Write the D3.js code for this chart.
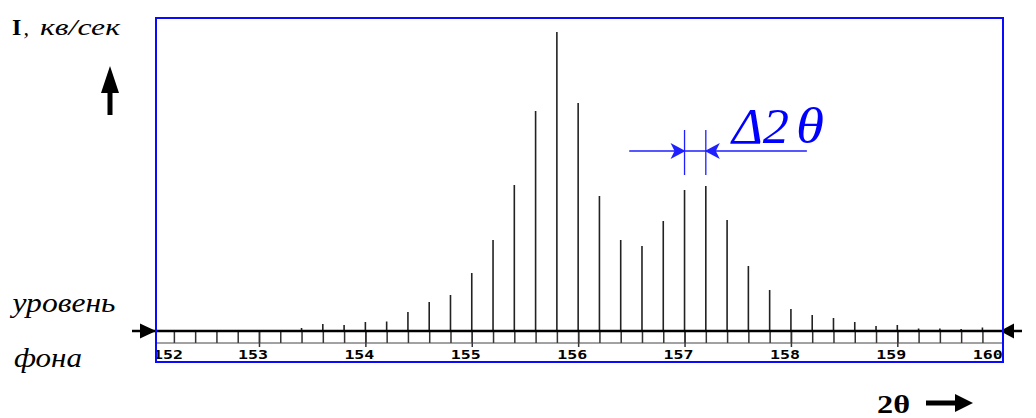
<!DOCTYPE html>
<html><head><meta charset="utf-8">
<script src="https://cdn.jsdelivr.net/npm/d3@7"></script>
<style>body{margin:0;background:#fff} svg{display:block}</style>
</head><body>
<script>
// ---- data ----
const positions = [152.2,152.4,152.6,152.8,153.0,153.2,153.4,153.6,153.8,154.0,154.2,154.4,154.6,154.8,
  155.0,155.2,155.4,155.6,155.8,156.0,156.2,156.4,156.6,156.8,157.0,157.2,157.4,157.6,157.8,
  158.0,158.2,158.4,158.6,158.8,159.0,159.2,159.4,159.6,159.8];
const intensities = [0,0,0,0,0,0,3,7,6,9,9.5,19,29,36,
  58,91,146,220,299,228,135,91,85,110,141,145,111,65,41,
  22,16,13,9,5,6,2.5,2.5,2,3.5];
const majorTicks = [153,154,155,156,157,158,159];
const tickLabelValues = [152,153,154,155,156,157,158,159,160];
const tickLabels = ["152","153","154","155","156","157","158","159","160"];
const deltaPair = [157.0, 157.2];
const deltaLineExtent = [156.48, 158.15];
const deltaLevel = 180;

// ---- layout ----
const W = 1036, H = 418;
const frame = {x0:156, x1:1003, y0:18, y1:362};
const baseY = 331;
const x = d3.scaleLinear().domain([152,160]).range([152.6,1003.7]);
const y = d3.scaleLinear().domain([0,300]).range([baseY,31]);

const svg = d3.select("body").append("svg").attr("width",W).attr("height",H);
const defs = svg.append("defs");
defs.append("clipPath").attr("id","fclip").append("rect")
  .attr("x",frame.x0+0.5).attr("y",frame.y0).attr("width",frame.x1-frame.x0-1).attr("height",frame.y1-frame.y0);

// bars
svg.append("g").selectAll("line").data(positions).join("line")
  .attr("x1",d=>x(d)).attr("x2",d=>x(d))
  .attr("y1",y(0)).attr("y2",(d,i)=>y(intensities[i]))
  .attr("stroke","#222").attr("stroke-width",1.6);

// ruler: minor ticks
const minorAxis = d3.axisBottom(x).tickValues(positions).tickSize(12).tickFormat("");
const gMinor = svg.append("g").attr("transform",`translate(0,${baseY})`).call(minorAxis);
gMinor.select(".domain").remove();
gMinor.selectAll(".tick line").attr("stroke","#333").attr("stroke-width",1.5);
const majorAxis = d3.axisBottom(x).tickValues(majorTicks).tickSize(16).tickFormat("");
const gMajor = svg.append("g").attr("transform",`translate(0,${baseY})`).call(majorAxis);
gMajor.select(".domain").remove();
gMajor.selectAll(".tick line").attr("stroke","#333").attr("stroke-width",1.5);

// lower ruler line
svg.append("line").attr("x1",frame.x0).attr("x2",frame.x1).attr("y1",343).attr("y2",343)
  .attr("stroke","#444").attr("stroke-width",1);

// tick labels
const gl = svg.append("g").attr("clip-path","url(#fclip)");
gl.selectAll("text").data(tickLabelValues).join("text")
  .attr("x",(d,i)=> i===0 ? x(d)+0.5 : (i===tickLabelValues.length-1 ? x(d)-31 : x(d)-21))
  .attr("y",358.5)
  .attr("textLength",30).attr("lengthAdjust","spacingAndGlyphs")
  .attr("font-family","DejaVu Sans Mono").attr("font-weight","bold").attr("font-size",11.5)
  .attr("fill","#000")
  .text((d,i)=>tickLabels[i]);

// baseline with arrows
svg.append("line").attr("x1",132).attr("x2",1022).attr("y1",baseY).attr("y2",baseY)
  .attr("stroke","#000").attr("stroke-width",2.5);
svg.append("path").attr("d",`M${frame.x0},${baseY} L${frame.x0-16},${baseY-7.5} L${frame.x0-16},${baseY+7.5} Z`).attr("fill","#000");
svg.append("path").attr("d",`M1000,${baseY} L1014,${baseY-7.5} L1014,${baseY+7.5} Z`).attr("fill","#000");

// frame
svg.append("rect").attr("x",frame.x0).attr("y",frame.y0)
  .attr("width",frame.x1-frame.x0).attr("height",frame.y1-frame.y0)
  .attr("fill","none").attr("stroke","#0a0aff").attr("stroke-width",2);

// delta 2theta annotation
const blue = "#1f1fff";
const ga = svg.append("g");
deltaPair.forEach(v=>{
  ga.append("line").attr("x1",x(v)).attr("x2",x(v)).attr("y1",130).attr("y2",175)
    .attr("stroke",blue).attr("stroke-width",1.3);
});
const ly = y(deltaLevel);
ga.append("line").attr("x1",x(deltaLineExtent[0])).attr("x2",x(deltaLineExtent[1]))
  .attr("y1",ly).attr("y2",ly).attr("stroke",blue).attr("stroke-width",1.3);
const t1 = x(deltaPair[0]), t2 = x(deltaPair[1]);
ga.append("path").attr("d",`M${t1+1},${ly} L${t1-14},${ly-8} L${t1-10},${ly} L${t1-14},${ly+8} Z`).attr("fill",blue);
ga.append("path").attr("d",`M${t2-1},${ly} L${t2+14},${ly-8} L${t2+10},${ly} L${t2+14},${ly+8} Z`).attr("fill",blue);
ga.append("text").attr("x",732).attr("y",143)
  .attr("font-family","Liberation Serif").attr("font-style","italic").attr("font-size",50)
  .attr("textLength",57).attr("lengthAdjust","spacingAndGlyphs")
  .attr("fill","#0000ff").text("Δ2");
ga.append("text").attr("x",796).attr("y",143)
  .attr("font-family","Liberation Serif").attr("font-style","italic").attr("font-size",50)
  .attr("textLength",28).attr("lengthAdjust","spacingAndGlyphs")
  .attr("fill","#0000ff").text("θ");

// y label
const serif = "Liberation Serif";
svg.append("text").attr("x",12).attr("y",35).attr("font-family",serif).attr("font-weight","bold")
  .attr("font-size",24).attr("fill","#000").text("I");
svg.append("text").attr("x",23.5).attr("y",35).attr("font-family",serif).attr("font-style","italic")
  .attr("font-size",22).attr("fill","#000").text(",");
svg.append("text").attr("x",40).attr("y",35).attr("font-family",serif).attr("font-style","italic")
  .attr("font-size",23).attr("textLength",80).attr("lengthAdjust","spacingAndGlyphs").attr("fill","#000").text("кв/сек");
// up arrow
svg.append("rect").attr("x",107.5).attr("y",90).attr("width",5).attr("height",25).attr("fill","#000");
svg.append("path").attr("d","M101,93 L119,93 L110,66 Z").attr("fill","#000");

// background labels
svg.append("text").attr("x",12.5).attr("y",312).attr("font-family",serif).attr("font-style","italic")
  .attr("font-size",27).attr("textLength",103).attr("lengthAdjust","spacingAndGlyphs").attr("fill","#000").text("уровень");
svg.append("text").attr("x",14).attr("y",366.5).attr("font-family",serif).attr("font-style","italic")
  .attr("font-size",27).attr("textLength",68).attr("lengthAdjust","spacingAndGlyphs").attr("fill","#000").text("фона");

// 2theta
svg.append("text").attr("x",877).attr("y",413).attr("font-family",serif).attr("font-weight","bold")
  .attr("font-size",25).attr("textLength",33).attr("lengthAdjust","spacingAndGlyphs").attr("fill","#000").text("2θ");
svg.append("rect").attr("x",926).attr("y",400.5).attr("width",31).attr("height",5).attr("fill","#000");
svg.append("path").attr("d","M955,394 L955,412 L973,403 Z").attr("fill","#000");
</script>
</body></html>
